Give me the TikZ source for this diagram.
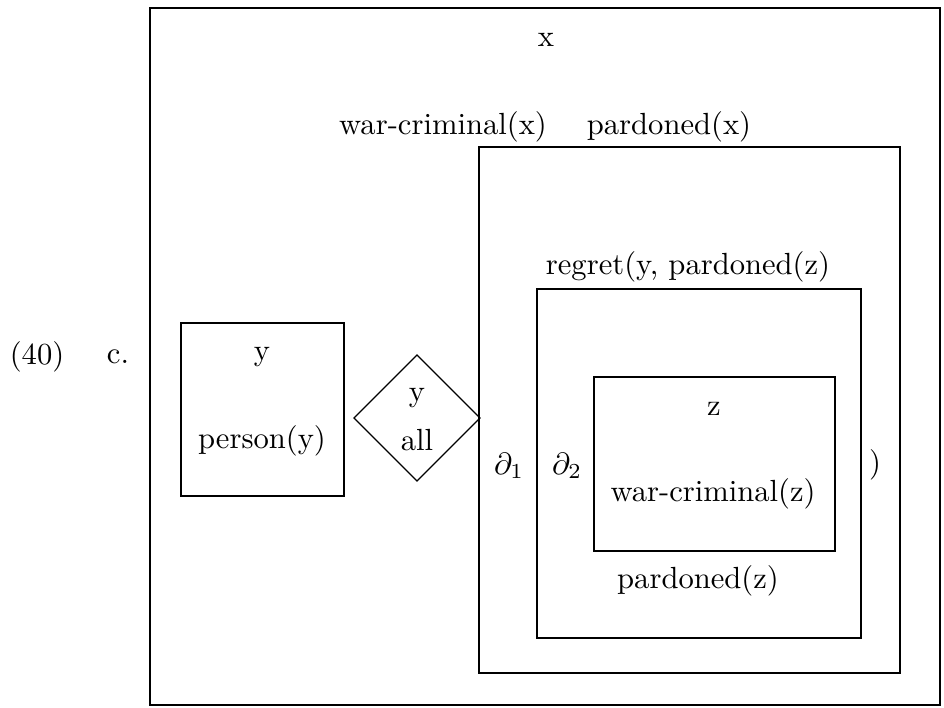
\documentclass[tikz,border=0pt]{standalone}
\usetikzlibrary{shapes.geometric}
\begin{document}
\begin{tikzpicture}[x=0.3268pt,y=-0.3268pt,
  boxline/.style={draw=black,line width=0.65pt},
  thinline/.style={draw=black,line width=0.4pt},
  lbl/.style={inner sep=0pt,anchor=center}]
\useasboundingbox (0,0) rectangle (944,707);
% boxes
\draw[boxline] (150,8) rectangle (940,705);
\draw[boxline] (479,147) rectangle (900,673);
\draw[boxline] (537,289) rectangle (861,638);
\draw[boxline] (594,377) rectangle (835,551);
\draw[boxline] (181,323) rectangle (344,496);
\draw[thinline] (354,418) coordinate (dl) -- (417,355) coordinate (dt) -- (480,418) coordinate (dr) -- (417,481) coordinate (db) -- cycle;
% labels
\node[lbl] (n40) at (37,357) {(40)};
\node[lbl] (nc) at (118,357) {c.};
\node[lbl] (nx) at (546,40) {x};
\node[lbl] (nwcx) at (443,127) {war-criminal(x)};
\node[lbl] (npx) at (669,127) {pardoned(x)};
\node[lbl] (nreg) at (688,267) {regret(y, pardoned(z)};
\node[lbl] (nz) at (714,409) {z};
\node[lbl] (nwcz) at (713,494) {war-criminal(z)};
\node[lbl] (npz) at (698,581) {pardoned(z)};
\node[lbl] (nd1) at (509,466) {$\partial_1$};
\node[lbl] (nd2) at (567,466) {$\partial_2$};
\node[lbl] (nrp) at (875,465) {)};
\node[lbl] (ny) at (262,357) {y};
\node[lbl] (nper) at (262,441) {person(y)};
\node[lbl] (ndy) at (417,398) {y};
\node[lbl] (nall) at (417,440) {all};
\end{tikzpicture}
\end{document}
